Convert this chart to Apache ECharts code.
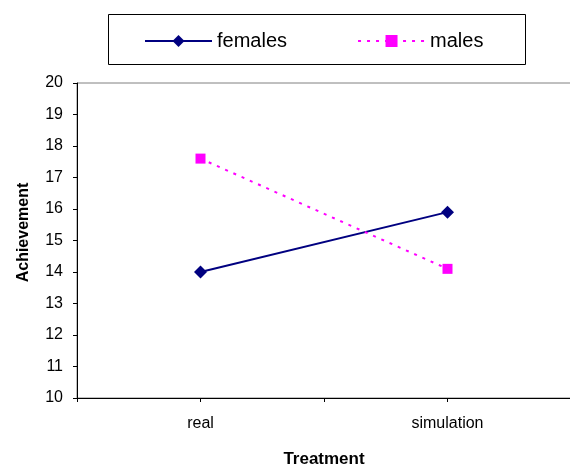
<!DOCTYPE html>
<html>
<head>
<meta charset="utf-8">
<script src="https://cdn.jsdelivr.net/npm/echarts@6/dist/echarts.min.js"></script>
<style>html,body{margin:0;padding:0;background:#fff;}#c{width:570px;height:466px;}</style>
</head>
<body>
<div id="c"></div>
<script>
var categories = ['real', 'simulation'];
var females = [14.0, 15.9];
var males = [17.6, 14.1];
var yTicks = [10, 20, 1];

// Excel layout: category slots with empty spacers around and between
var axisCats = [''];
var fData = [null], mData = [null];
categories.forEach(function (c, i) {
  axisCats.push(c); fData.push(females[i]); mData.push(males[i]);
  axisCats.push(''); fData.push(null); mData.push(null);
});

var chart = echarts.init(document.getElementById('c'));
var font = 'Liberation Sans, Arial, sans-serif';
chart.setOption({
  animation: false,
  backgroundColor: '#fff',
  graphic: [{
    type: 'rect', left: 108, top: 14, z: -1,
    shape: { width: 417, height: 50 },
    style: { fill: '#fff', stroke: '#000', lineWidth: 1 }
  }],
  legend: {
    left: 139, top: 26,
    itemWidth: 67, itemHeight: 15, itemGap: 70,
    textStyle: { fontFamily: font, fontSize: 20, color: '#000', padding: [0,0,0,0] },
    data: ['females', 'males']
  },
  grid: { left: 77, right: -1, top: 83, bottom: 68, show: true, borderColor: '#808080', borderWidth: 1, outerBoundsMode: 'none', containLabel: false },
  xAxis: {
    type: 'category', data: axisCats, boundaryGap: false,
    name: 'Treatment', nameLocation: 'middle', nameGap: 53,
    nameTextStyle: { fontFamily: font, fontSize: 17, fontWeight: 'bold', color: '#000' },
    axisLine: { lineStyle: { color: '#000', width: 1 } },
    axisTick: { show: true, interval: 0, length: 4, lineStyle: { color: '#000' } },
    axisLabel: { interval: 0, margin: 18, fontFamily: font, fontSize: 16, color: '#000' }
  },
  yAxis: {
    type: 'value', min: yTicks[0], max: yTicks[1], interval: yTicks[2],
    name: 'Achievement', nameLocation: 'middle', nameGap: 45,
    nameTextStyle: { fontFamily: font, fontSize: 16, fontWeight: 'bold', color: '#000', padding: [0, 0, 0, 16] },
    axisLine: { show: true, lineStyle: { color: '#000', width: 1 } },
    axisTick: { show: true, length: 4, lineStyle: { color: '#000' } },
    axisLabel: { margin: 14, fontFamily: font, fontSize: 16, color: '#000' },
    splitLine: { show: false }
  },
  series: [{
    name: 'females', type: 'line', data: fData, connectNulls: true,
    symbol: 'diamond', symbolSize: 13,
    itemStyle: { color: '#000080' },
    lineStyle: { color: '#000080', width: 2 }
  }, {
    name: 'males', type: 'line', data: mData, connectNulls: true,
    symbol: 'rect', symbolSize: 10,
    itemStyle: { color: '#ff00ff' },
    lineStyle: { color: '#ff00ff', width: 2, type: [3, 6] }
  }]
});
</script>
</body>
</html>
